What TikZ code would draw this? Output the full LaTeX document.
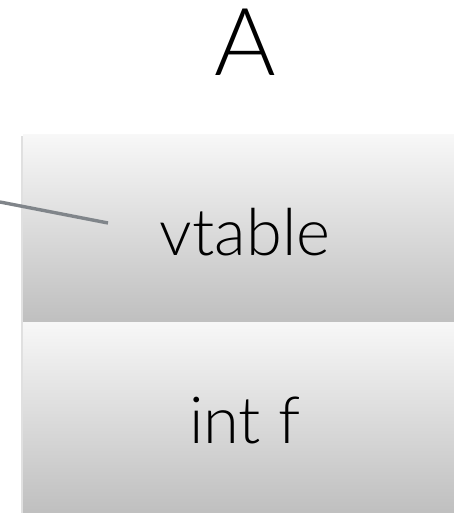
\documentclass[tikz,border=0pt]{standalone}
\usepackage{fontspec}
\setmainfont{Lato}[UprightFont={* Light}]
\definecolor{ptrgray}{HTML}{80858A}
\begin{document}
\begin{tikzpicture}[x=1pt,y=-1pt,
  cell/.style={shading=axis, top color=black!3, bottom color=black!25, draw=none},
  lbl/.style={font=\fontsize{65}{70}\selectfont, text=black, inner sep=0pt},
  ptr/.style={draw=ptrgray, line width=3.4pt}]
\useasboundingbox (0,0) rectangle (454,513);
\fill[black!12] (21,136) rectangle (454,513);
\shade[cell] (23,135) rectangle (454,322);
\shade[cell] (23,322) rectangle (454,513);
\node[lbl, font=\fontsize{94}{100}\selectfont, anchor=base] (title) at (245,76) {A};
\node[lbl, anchor=base] (vt) at (245,255) {vtable};
\node[lbl, anchor=base] (f) at (245,443) {int f};
\coordinate (src) at (0,202);
\coordinate (dst) at (108,223);
\draw[ptr] (src) -- (dst);
\end{tikzpicture}
\end{document}
